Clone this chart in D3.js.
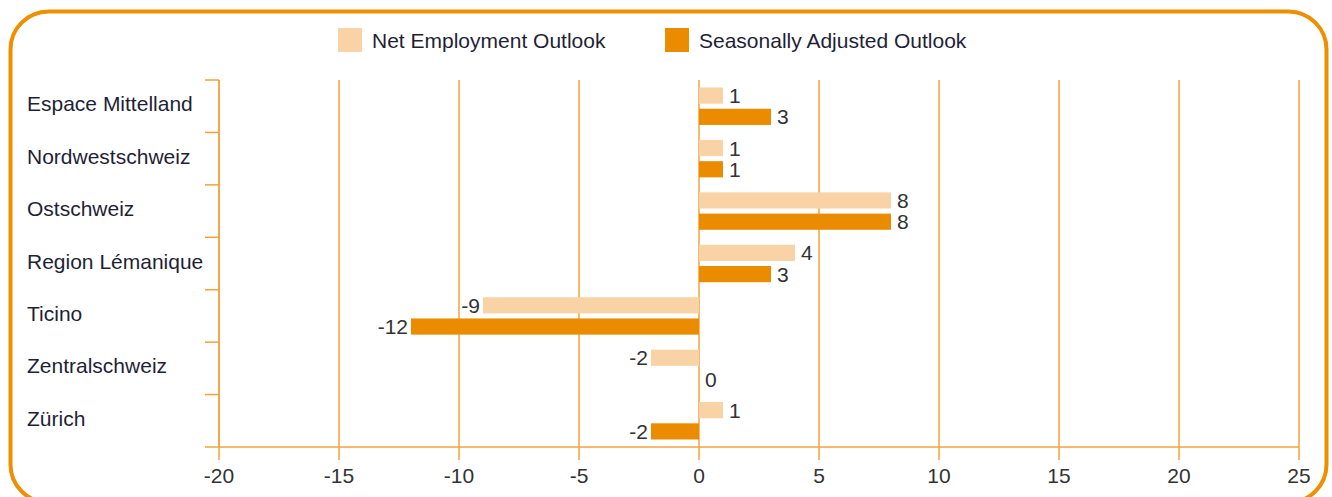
<!DOCTYPE html>
<html>
<head>
<meta charset="utf-8">
<script src="https://cdn.jsdelivr.net/npm/d3@7"></script>
<style>
  body { margin: 0; background: #fff; overflow: hidden; }
  text { font-family: "Liberation Sans", Arial, sans-serif; }
</style>
</head>
<body>
<div id="chart"></div>
<script>
// data
const regions = ["Espace Mittelland", "Nordwestschweiz", "Ostschweiz", "Region Lémanique", "Ticino", "Zentralschweiz", "Zürich"];
const netOutlook = [1, 1, 8, 4, -9, -2, 1];
const adjustedOutlook = [3, 1, 8, 3, -12, 0, -2];
const seriesNames = ["Net Employment Outlook", "Seasonally Adjusted Outlook"];
const xTicks = [-20, -15, -10, -5, 0, 5, 10, 15, 20, 25];

const colors = ["#F9D3A5", "#EB8C00"];
const gridColor = "#F0A33C";

const width = 1332, height = 497;
const margin = { left: 219, right: 33, top: 80, bottom: 50 };

const svg = d3.select("#chart").append("svg")
  .attr("width", width)
  .attr("height", height)
  .style("display", "block");

// rounded frame (bottom edge runs just past the picture)
svg.append("rect")
  .attr("x", 10.5).attr("y", 11.5)
  .attr("width", 1316).attr("height", 491)
  .attr("rx", 38).attr("ry", 38)
  .attr("fill", "none")
  .attr("stroke", "#EE8F00")
  .attr("stroke-width", 4);

const x = d3.scaleLinear().domain([-20, 25]).range([margin.left, width - margin.right]);
const y = d3.scaleBand().domain(regions).range([margin.top, height - margin.bottom]);
const y1 = d3.scaleBand().domain([0, 1]).range([7.5, y.bandwidth() - 7.5]).paddingInner(5 / 21);

const rows = regions.map((r, i) => ({ region: r, values: [netOutlook[i], adjustedOutlook[i]] }));

// vertical grid lines
svg.append("g").selectAll("line")
  .data(xTicks)
  .join("line")
    .attr("x1", d => x(d)).attr("x2", d => x(d))
    .attr("y1", margin.top).attr("y2", height - margin.bottom + 13)
    .attr("stroke", gridColor)
    .attr("stroke-width", 1.5);

// x axis line
const axisY = height - margin.bottom;
svg.append("line")
  .attr("x1", margin.left - 14).attr("x2", x(25))
  .attr("y1", axisY).attr("y2", axisY)
  .attr("stroke", gridColor).attr("stroke-width", 1.5);

// y axis with ticks at band boundaries
svg.append("line")
  .attr("x1", margin.left).attr("x2", margin.left)
  .attr("y1", margin.top).attr("y2", axisY)
  .attr("stroke", gridColor).attr("stroke-width", 1.5);
svg.append("g").selectAll("line")
  .data(regions)
  .join("line")
    .attr("x1", margin.left - 14).attr("x2", margin.left)
    .attr("y1", d => y(d)).attr("y2", d => y(d))
    .attr("stroke", gridColor).attr("stroke-width", 1.5);

// x tick labels
svg.append("g").selectAll("text")
  .data(xTicks)
  .join("text")
    .attr("x", d => x(d))
    .attr("y", axisY + 36)
    .attr("text-anchor", "middle")
    .attr("font-size", 21)
    .attr("fill", "#333")
    .text(d => d);

// category labels
svg.append("g").selectAll("text")
  .data(regions)
  .join("text")
    .attr("x", 27)
    .attr("y", d => y(d) + y.bandwidth() / 2 + 5)
    .attr("font-size", 21)
    .attr("fill", "#1f1f36")
    .text(d => d);

// bars
const groups = svg.append("g").selectAll("g")
  .data(rows)
  .join("g")
    .attr("transform", d => `translate(0,${y(d.region)})`);

groups.selectAll("rect")
  .data(d => d.values.map((v, k) => ({ v, k })))
  .join("rect")
    .attr("x", d => x(Math.min(0, d.v)))
    .attr("y", d => y1(d.k))
    .attr("width", d => Math.abs(x(d.v) - x(0)))
    .attr("height", y1.bandwidth())
    .attr("fill", d => colors[d.k]);

groups.selectAll("text")
  .data(d => d.values.map((v, k) => ({ v, k })))
  .join("text")
    .attr("x", d => d.v < 0 ? x(d.v) - 3 : x(d.v) + 6)
    .attr("y", d => y1(d.k) + y1.bandwidth() / 2)
    .attr("dy", "0.36em")
    .attr("text-anchor", d => d.v < 0 ? "end" : "start")
    .attr("font-size", 21)
    .attr("fill", "#333")
    .text(d => d.v);

// legend
const legend = svg.append("g").selectAll("g")
  .data(seriesNames)
  .join("g")
    .attr("transform", (d, i) => `translate(${[338, 665][i]},28)`);
legend.append("rect")
  .attr("width", 24).attr("height", 24)
  .attr("fill", (d, i) => colors[i]);
legend.append("text")
  .attr("x", 34).attr("y", 12)
  .attr("dy", "0.36em")
  .attr("font-size", 21)
  .attr("fill", "#1f1f36")
  .text(d => d);
</script>
</body>
</html>
